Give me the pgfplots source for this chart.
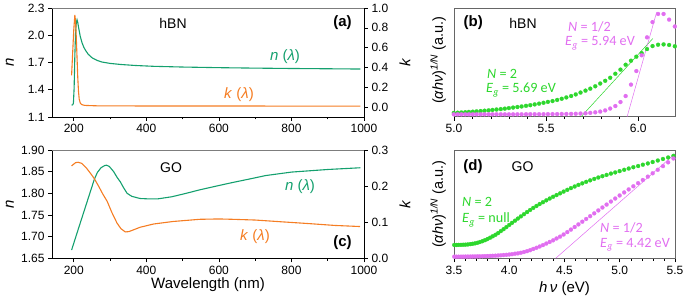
\documentclass[border=0pt]{standalone}
\usepackage{pgfplots}
\pgfplotsset{compat=1.18}
\usepackage{fontspec}
\setmainfont{Liberation Sans}
\newfontfamily\calib{Carlito}
\definecolor{ngreen}{RGB}{20,160,110}
\definecolor{korange}{RGB}{245,125,35}
\definecolor{dgreen}{RGB}{45,215,45}
\definecolor{dmag}{RGB}{225,110,240}
\definecolor{framegray}{RGB}{125,125,125}
\pgfplotsset{
  every axis/.append style={
    scale only axis,
    font=\fontsize{12}{14}\selectfont,
    /pgf/number format/assume math mode=true,
    /pgf/number format/1000 sep={},
    tick style={black, line width=0.6pt},
    major tick length=4pt, minor tick length=2.5pt,
    tick align=outside,
    axis line style={line width=0.7pt},
    label style={font=\fontsize{15}{17}\selectfont},
    clip=false,
  },
  gdot/.style={only marks, mark=*, mark size=2pt, mark options={solid, draw=dgreen, fill=dgreen, line width=0.2pt}},
  mdot/.style={only marks, mark=*, mark size=2pt, mark options={solid, draw=dmag, fill=dmag, line width=0.2pt}},
}
\pgfplotstableread{
E g m
6.199 0.648 0.830
6.168 0.660 0.893
6.138 0.665 0.945
6.108 0.662 0.945
6.078 0.650 0.870
6.048 0.622 0.730
6.019 0.585 0.565
5.990 0.552 0.420
5.961 0.515 0.295
5.932 0.478 0.190
5.904 0.433 0.135
5.876 0.395 0.098
5.848 0.358 0.075
5.821 0.330 0.058
5.794 0.305 0.047
5.767 0.280 0.040
5.740 0.258 0.035
5.714 0.240 0.031
5.687 0.222 0.029
5.661 0.205 0.027
5.636 0.190 0.026
5.610 0.177 0.025
5.585 0.165 0.025
5.560 0.154 0.024
5.535 0.144 0.024
5.510 0.136 0.024
5.486 0.128 0.023
5.462 0.120 0.023
5.438 0.113 0.023
5.414 0.106 0.023
5.391 0.100 0.023
5.367 0.094 0.022
5.344 0.089 0.022
5.321 0.084 0.022
5.298 0.079 0.022
5.276 0.074 0.022
5.254 0.070 0.022
5.231 0.066 0.022
5.209 0.062 0.022
5.188 0.058 0.022
5.166 0.055 0.022
5.145 0.052 0.022
5.123 0.049 0.022
5.102 0.046 0.022
5.081 0.044 0.022
5.061 0.041 0.022
5.040 0.039 0.022
5.020 0.037 0.022
4.999 0.035 0.022
}\hbntauc
\pgfplotstableread{
E g m
3.502 0.123 0.015
3.522 0.123 0.015
3.542 0.124 0.015
3.563 0.124 0.015
3.583 0.125 0.015
3.604 0.126 0.016
3.625 0.128 0.016
3.647 0.131 0.016
3.668 0.134 0.017
3.690 0.138 0.017
3.712 0.143 0.018
3.734 0.150 0.018
3.757 0.158 0.019
3.780 0.167 0.020
3.803 0.178 0.021
3.827 0.190 0.022
3.850 0.203 0.023
3.875 0.217 0.024
3.899 0.233 0.026
3.924 0.251 0.028
3.949 0.269 0.030
3.974 0.288 0.032
4.000 0.308 0.035
4.025 0.327 0.038
4.052 0.347 0.042
4.078 0.367 0.046
4.105 0.387 0.051
4.133 0.407 0.058
4.161 0.427 0.066
4.189 0.446 0.075
4.217 0.465 0.086
4.246 0.483 0.097
4.275 0.501 0.109
4.305 0.518 0.122
4.335 0.535 0.136
4.366 0.552 0.151
4.397 0.568 0.166
4.428 0.584 0.183
4.460 0.600 0.200
4.492 0.616 0.220
4.525 0.632 0.242
4.558 0.648 0.265
4.592 0.663 0.289
4.626 0.678 0.313
4.661 0.692 0.338
4.696 0.706 0.363
4.732 0.720 0.389
4.769 0.733 0.415
4.806 0.746 0.442
4.843 0.758 0.469
4.881 0.770 0.496
4.920 0.782 0.524
4.959 0.793 0.552
4.999 0.805 0.580
5.040 0.817 0.608
5.081 0.829 0.636
5.123 0.841 0.665
5.166 0.852 0.694
5.209 0.864 0.723
5.254 0.876 0.754
5.298 0.889 0.785
5.344 0.903 0.817
5.391 0.917 0.851
5.438 0.931 0.886
5.486 0.946 0.922
}\gotauc
\begin{document}
\begin{tikzpicture}[x=1pt,y=1pt]
\useasboundingbox (0,0) rectangle (685,304);
% ---------------- (a) hBN ----------------
\begin{axis}[at={(52pt,187pt)}, anchor=south west, width=312pt, height=109pt,
  xmin=140, xmax=1000, ymin=1.1, ymax=2.3,
  axis x line*=bottom, axis y line*=left,
  xtick={200,400,600,800,1000}, minor x tick num=1,
  ytick={1.1,1.4,1.7,2.0,2.3},
  yticklabel style={/pgf/number format/.cd,fixed,fixed zerofill,precision=1},
  ylabel={\textit{n}}, ylabel style={at={(axis description cs:-0.135,0.5)}, anchor=center}]
\addplot[ngreen, line width=1.1pt] table {
194 1.230
197 1.235
199 1.250
201 1.420
203 1.780
205 2.030
207 2.140
209 2.170
211 2.140
214 2.070
218 1.985
223 1.915
228 1.865
233 1.830
240 1.790
251 1.750
265 1.722
278 1.705
300 1.690
330 1.678
370 1.667
420 1.658
500 1.650
600 1.643
700 1.638
800 1.634
900 1.631
990 1.628
};
\end{axis}
\begin{axis}[at={(52pt,187pt)}, anchor=south west, width=312pt, height=109pt,
  xmin=140, xmax=1000, ymin=-0.1, ymax=1.0,
  axis y line*=right, axis x line*=top, xtick=\empty,
  x axis line style={draw=framegray},
  ytick={0,0.2,0.4,0.6,0.8,1.0},
  yticklabel style={/pgf/number format/.cd,fixed,fixed zerofill,precision=1},
  ylabel={\textit{k}}, ylabel style={at={(axis description cs:1.131,0.5)}, anchor=center}]
\addplot[korange, line width=1.1pt] table {
194 0.320
197 0.550
200 0.780
203 0.930
205 0.860
207 0.700
209 0.500
211 0.300
213 0.160
215 0.080
218 0.040
222 0.025
230 0.017
260 0.013
400 0.011
990 0.010
};
\end{axis}
% ---------------- (c) GO ----------------
\begin{axis}[at={(52pt,45.7pt)}, anchor=south west, width=312pt, height=108.3pt,
  xmin=140, xmax=1000, ymin=1.65, ymax=1.90,
  axis x line*=bottom, axis y line*=left,
  xtick={200,400,600,800,1000}, minor x tick num=1,
  ytick={1.65,1.70,1.75,1.80,1.85,1.90},
  yticklabel style={/pgf/number format/.cd,fixed,fixed zerofill,precision=2},
  xlabel={Wavelength (nm)}, xlabel style={at={(axis description cs:0.5,-0.24)}, anchor=center},
  ylabel={\textit{n}}, ylabel style={at={(axis description cs:-0.135,0.5)}, anchor=center}]
\addplot[ngreen, line width=1.1pt] table {
194 1.669
210 1.711
230 1.763
250 1.815
257 1.833
265 1.848
275 1.859
285 1.864
290 1.865
298 1.862
310 1.850
320 1.836
328 1.827
338 1.812
347 1.800
360 1.793
383 1.788
410 1.787
430 1.787
470 1.792
510 1.800
547 1.808
600 1.818
638 1.825
690 1.834
729 1.841
800 1.849
900 1.855
990 1.859
};
\end{axis}
\begin{axis}[at={(52pt,45.7pt)}, anchor=south west, width=312pt, height=108.3pt,
  xmin=140, xmax=1000, ymin=0, ymax=0.3,
  axis y line*=right, axis x line*=top, xtick=\empty,
  x axis line style={draw=framegray},
  ytick={0,0.1,0.2,0.3},
  yticklabel style={/pgf/number format/.cd,fixed,fixed zerofill,precision=1},
  ylabel={\textit{k}}, ylabel style={at={(axis description cs:1.131,0.5)}, anchor=center}]
\addplot[korange, line width=1.1pt] table {
194 0.256
205 0.265
212 0.266
222 0.263
235 0.250
250 0.230
257 0.220
270 0.197
280 0.178
292 0.158
305 0.127
319 0.098
330 0.082
342 0.073
352 0.074
365 0.079
383 0.086
420 0.095
474 0.102
547 0.108
600 0.109
638 0.108
700 0.106
774 0.101
850 0.096
920 0.091
989 0.088
};
\end{axis}
% ---------------- (b) hBN Tauc ----------------
\begin{axis}[at={(454pt,187.3pt)}, anchor=south west, width=221pt, height=108.7pt,
  xmin=5.0, xmax=6.2, ymin=0, ymax=1,
  axis line style={black!60},
  xtick={5.0,5.5,6.0}, minor x tick num=4, xtick pos=bottom,
  ytick=\empty,
  xticklabel style={/pgf/number format/.cd,fixed,fixed zerofill,precision=1},
  ylabel={(\textit{αhν})\textsuperscript{\textit{1/N}} (a.u.)},
  ylabel style={at={(axis description cs:-0.072,0.52)}, anchor=center, font=\fontsize{14.5}{16}\selectfont}]
\addplot[gdot] table[x=E, y=g] {\hbntauc};
\addplot[mdot] table[x=E, y=m] {\hbntauc};
\addplot[dgreen, line width=0.5pt] coordinates {(5.69,0) (6.08,0.72)};
\addplot[dmag, line width=0.5pt] coordinates {(5.94,0) (6.10,0.96)};
\end{axis}
% ---------------- (d) GO Tauc ----------------
\begin{axis}[at={(454pt,45.7pt)}, anchor=south west, width=221pt, height=108.3pt,
  xmin=3.5, xmax=5.5, ymin=0, ymax=1,
  axis line style={black!60},
  xtick={3.5,4.0,4.5,5.0,5.5}, minor x tick num=4, xtick pos=bottom,
  ytick=\empty,
  xticklabel style={/pgf/number format/.cd,fixed,fixed zerofill,precision=1},
  xlabel={\textit{h}\,\textit{ν} (eV)}, xlabel style={at={(axis description cs:0.5,-0.28)}, anchor=center},
  ylabel={(\textit{αhν})\textsuperscript{\textit{1/N}} (a.u.)},
  ylabel style={at={(axis description cs:-0.072,0.5)}, anchor=center, font=\fontsize{14.5}{16}\selectfont}]
\addplot[gdot] table[x=E, y=g] {\gotauc};
\addplot[mdot] table[x=E, y=m] {\gotauc};
\addplot[dmag, line width=0.5pt] coordinates {(4.42,0) (5.5,0.965)};
\end{axis}
% ---------------- annotations ----------------
\begin{scope}[font=\fontsize{14}{16}\selectfont]
\node at (173,281) {hBN};
\node[font=\fontsize{15}{17}\selectfont\bfseries] at (342.5,281) {(a)};
\node[ngreen, font=\fontsize{15}{17}\selectfont] at (285,247) {\textit{n} (\textit{λ})};
\node[korange, font=\fontsize{15}{17}\selectfont] at (239,209) {\textit{k} (\textit{λ})};
\node at (171,136) {GO};
\node[ngreen, font=\fontsize{15}{17}\selectfont] at (300,117.3) {\textit{n} (\textit{λ})};
\node[korange, font=\fontsize{15}{17}\selectfont] at (255,67.3) {\textit{k} (\textit{λ})};
\node[font=\fontsize{15}{17}\selectfont\bfseries] at (342.5,61) {(c)};
\node[font=\fontsize{15}{17}\selectfont\bfseries] at (473.3,281) {(b)};
\node at (523,281) {hBN};
\node[font=\fontsize{15}{17}\selectfont\bfseries] at (473,137.3) {(d)};
\node at (522.5,137.3) {GO};
\end{scope}
\begin{scope}[font=\calib\fontsize{14.2}{15}\selectfont, inner sep=0pt]
\node[dmag, anchor=west] at (568,277.3) {\textit{N} = 1/2};
\node[dmag, anchor=west] at (565,260.7) {\textit{E}\textsubscript{\textit{g}} = 5.94 eV};
\node[dgreen, anchor=west] at (487,229.7) {\textit{N} = 2};
\node[dgreen, anchor=west] at (486,214) {\textit{E}\textsubscript{\textit{g}} = 5.69 eV};
\node[dgreen, anchor=west] at (462,102.3) {\textit{N} = 2};
\node[dgreen, anchor=west] at (462,84) {\textit{E}\textsubscript{\textit{g}} = null};
\node[dmag, anchor=west] at (600,75.7) {\textit{N} = 1/2};
\node[dmag, anchor=west] at (600,59) {\textit{E}\textsubscript{\textit{g}} = 4.42 eV};
\end{scope}
\end{tikzpicture}
\end{document}
